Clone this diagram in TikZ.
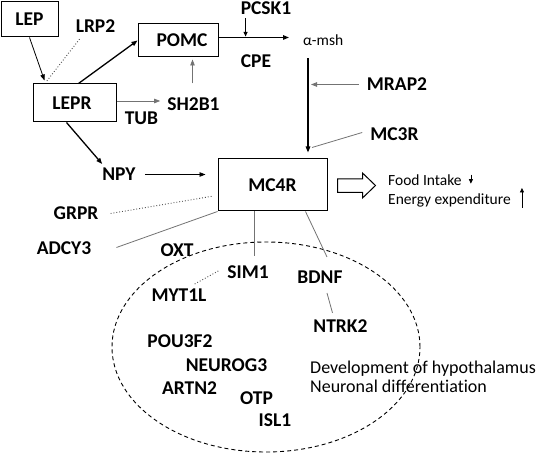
\documentclass[tikz,border=0pt]{standalone}
\usepackage{fontspec}
\setmainfont{Carlito}[Ligatures={NoCommon}, Contextuals={NoAlternate}]
\usetikzlibrary{arrows.meta,calc,shapes.geometric}
\begin{document}
\begin{tikzpicture}[x=1pt,y=-1pt,
 lbl/.style={font=\bfseries\fontsize{19.5}{20}\selectfont, inner sep=0pt},
 box/.style={draw, line width=1pt, font=\bfseries\fontsize{19.5}{20}\selectfont, inner sep=0pt},
 txt/.style={font=\fontsize{18}{20}\selectfont, inner sep=0pt, anchor=base west},
 stxt/.style={font=\fontsize{15.5}{17}\selectfont, inner sep=0pt, anchor=base west},
 gline/.style={line width=0.8pt, black!55},
 bline/.style={line width=1.3pt, black},
 nline/.style={line width=0.8pt, black},
 tip/.style={-{Triangle[length=6pt,width=4.5pt]}},
 stip/.style={-{Triangle[length=4.5pt,width=4pt]}},
 dotline/.style={dotted, line width=0.9pt, black!70}
]
\useasboundingbox (0,0) rectangle (536,457);

% boxes
\node[box, minimum width=57pt, minimum height=35pt] (lep) at (29.5,19.5) {LEP};
\node[box, minimum width=80pt, minimum height=33pt] (pomc) at (178,40.5) {\hspace*{8pt}POMC};
\node[box, minimum width=83pt, minimum height=38pt] (lepr) at (74.5,103) {LEPR\hspace*{5pt}};
\node[box, minimum width=109pt, minimum height=52pt] (mc4r) at (272.5,185) {MC4R};

% region
\node[draw, ellipse, dashed, dash pattern=on 4pt off 3pt, line width=0.9pt,
      minimum width=308pt, minimum height=210pt, inner sep=0pt] (region) at (266,347) {};

% labels
\node[lbl] (lrp2) at (95.5,26.5) {LRP2};
\node[lbl] (pcsk1) at (266,8.5) {PCSK1};
\node[lbl] (cpe) at (256,61) {CPE};
\node[lbl] (sh2b1) at (193.5,104) {SH2B1};
\node[lbl] (tub) at (141.5,118.5) {TUB};
\node[lbl] (npy) at (119,174.5) {NPY};
\node[lbl] (mrap2) at (397,84.5) {MRAP2};
\node[lbl] (mc3r) at (394.5,134.5) {MC3R};
\node[lbl] (grpr) at (76,213.5) {GRPR};
\node[lbl] (adcy3) at (64,248.5) {ADCY3};
\node[lbl] (oxt) at (177,250) {OXT};
\node[lbl] (sim1) at (248,272.5) {SIM1};
\node[lbl] (bdnf) at (320,277.5) {BDNF};
\node[lbl] (myt1l) at (179,295.5) {MYT1L};
\node[lbl] (ntrk2) at (340.5,326.5) {NTRK2};
\node[lbl] (pou3f2) at (180,341.5) {POU3F2};
\node[lbl] (neurog3) at (226.5,365) {NEUROG3};
\node[lbl] (artn2) at (189.5,388.5) {ARTN2};
\node[lbl] (otp) at (256.5,398.5) {OTP};
\node[lbl] (isl1) at (275,420.5) {ISL1};
\node[stxt] (amsh) at (303,46) {α-msh};
\node[stxt] (food) at (388,186) {Food Intake};
\node[stxt] (energy) at (388,205) {Energy expenditure};
\node[txt] (dev) at (310,373.5) {Development of hypothalamus};
\node[txt] (neur) at (310,392.5) {Neuronal differentiation};

% connectors
\draw[nline, tip] (lep.south) -- ($(lepr.north west)+(12,-3)$);
\draw[dotline] ($(lrp2.south west)+(4,6)$) -- ($(lepr.north west)+(14,-2)$);
\draw[bline, tip] ($(lepr.north)+(4,0)$) -- (pomc.west);
\draw[gline, tip] ($(lepr.east)+(0,-2)$) -- ($(sh2b1.west)+(-7,-3)$);
\draw[gline, tip] ($(sh2b1.north)+(-1,-14)$) -- ($(sh2b1.north |- pomc.south)+(-1,2)$);
\draw[bline, tip] ($(lepr.south)+(-8,0)$) -- ($(npy.north west)+(0,-4)$);
\draw[nline, tip] ($(npy.east)+(9,0)$) -- ($(npy.east -| mc4r.west)+(-12,0)$);

\draw[bline, tip] ($(pomc.east)+(0,-3)$) -- ($(amsh.west |- pomc.east)+(-14,-3)$);
\draw[nline, stip] ($(pcsk1.south west)+(5,3)$) -- ($(pcsk1.south west |- pomc.east)+(5,-4)$);

\coordinate (vtop) at ($(amsh.south west)+(5,12)$);
\draw[bline, tip] (vtop) -- ($(vtop |- mc4r.north)+(0,-6)$);
\draw[gline, tip] ($(mrap2.west)+(-8,0)$) -- ($(vtop |- mrap2.west)+(3,0)$);
\draw[gline] ($(mc3r.west)+(-8,-2)$) -- ($(vtop |- mc4r.north)+(4,-11)$);

\draw[dotline] ($(grpr.east)+(12,0)$) -- ($(mc4r.west)+(-4,11)$);
\draw[gline] ($(adcy3.east)+(25,-1)$) -- (mc4r.south west);
\draw[gline] ($(sim1.north |- mc4r.south)+(6,0)$) -- ($(sim1.north)+(6,-10)$);
\draw[dotline] ($(myt1l.north east)+(-12,-5)$) -- ($(sim1.west)+(-8,-2)$);
\draw[gline] ($(mc4r.south)+(33,0)$) -- ($(bdnf.north)+(7,-14)$);
\draw[gline] ($(bdnf.south)+(7,9)$) -- ($(ntrk2.north)+(-8,-7)$);

% hollow arrow
\draw[line width=1pt, fill=white] ($(mc4r.east)+(10,-6)$) -- ++(25,0) -- ++(0,-6)
  -- ++(13,12.5) -- ++(-13,12.5) -- ++(0,-5.5) -- ++(-25,0) -- cycle;

% small arrows
\draw[nline, stip] ($(food.east)+(9,-6)$) -- ($(food.east)+(9,3)$);
\draw[nline, stip] ($(energy.east)+(11,7)$) -- ($(energy.east)+(11,-13)$);
\end{tikzpicture}
\end{document}
